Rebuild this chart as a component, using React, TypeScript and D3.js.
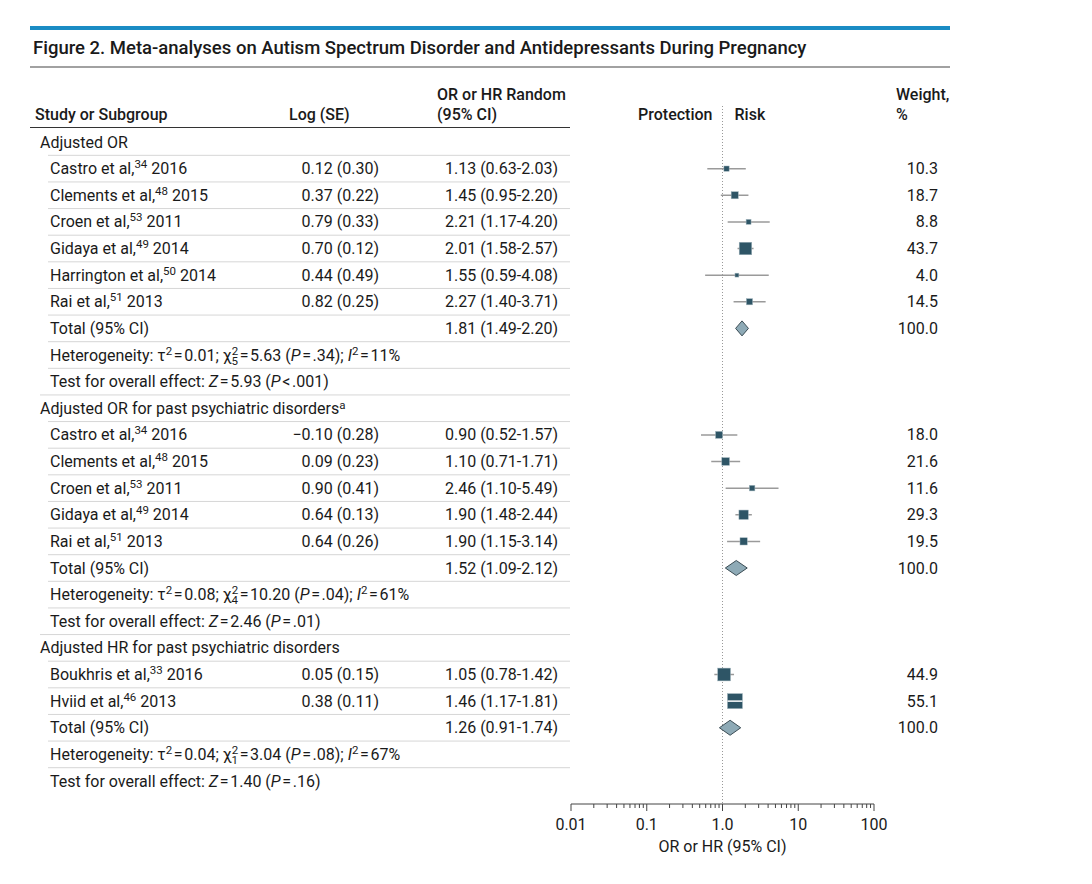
import * as d3 from "d3";
import React from "react";

// subgroups
const groupTitles = [
  "Adjusted OR",
  "Adjusted OR for past psychiatric disorders",
  "Adjusted HR for past psychiatric disorders",
];
const groupNotes = ["", "a", ""];

// studies
const studyGroup = [0, 0, 0, 0, 0, 0, 1, 1, 1, 1, 1, 2, 2];
const studyAuthor = [
  "Castro et al,", "Clements et al,", "Croen et al,", "Gidaya et al,", "Harrington et al,", "Rai et al,",
  "Castro et al,", "Clements et al,", "Croen et al,", "Gidaya et al,", "Rai et al,",
  "Boukhris et al,", "Hviid et al,",
];
const studyRef = ["34", "48", "53", "49", "50", "51", "34", "48", "53", "49", "51", "33", "46"];
const studyYear = ["2016", "2015", "2011", "2014", "2014", "2013", "2016", "2015", "2011", "2014", "2013", "2016", "2013"];
const logValues = [0.12, 0.37, 0.79, 0.7, 0.44, 0.82, -0.1, 0.09, 0.9, 0.64, 0.64, 0.05, 0.38];
const seValues = [0.3, 0.22, 0.33, 0.12, 0.49, 0.25, 0.28, 0.23, 0.41, 0.13, 0.26, 0.15, 0.11];
const orValues = [1.13, 1.45, 2.21, 2.01, 1.55, 2.27, 0.9, 1.1, 2.46, 1.9, 1.9, 1.05, 1.46];
const orLower = [0.63, 0.95, 1.17, 1.58, 0.59, 1.4, 0.52, 0.71, 1.1, 1.48, 1.15, 0.78, 1.17];
const orUpper = [2.03, 2.2, 4.2, 2.57, 4.08, 3.71, 1.57, 1.71, 5.49, 2.44, 3.14, 1.42, 1.81];
const weights = [10.3, 18.7, 8.8, 43.7, 4.0, 14.5, 18.0, 21.6, 11.6, 29.3, 19.5, 44.9, 55.1];

// pooled results
const totalOR = [1.81, 1.52, 1.26];
const totalLower = [1.49, 1.09, 0.91];
const totalUpper = [2.2, 2.12, 1.74];
const tau2 = ["0.01", "0.08", "0.04"];
const chiDf = ["5", "4", "1"];
const chi2 = ["5.63", "10.20", "3.04"];
const hetP = [".34", ".04", ".08"];
const i2 = ["11", "61", "67"];
const zValues = ["5.93", "2.46", "1.40"];
const zP = ["<", "=", "="];
const zPValues = [".001", ".01", ".16"];

// axis
const axisTicks = [0.01, 0.1, 1, 10, 100];
const axisLabels = ["0.01", "0.1", "1.0", "10", "100"];

const FONT = "Roboto, 'Noto Sans', sans-serif";
const SQUARE = "#2e5566";
const DIAMOND = "#8eaab6";
const LINE = "#d6d6d6";
const TXT = "#1a1a1a";

type Row = { type: "group" | "study" | "total" | "het" | "test"; g: number; i?: number };

const rows: Row[] = [];
groupTitles.forEach((_, g) => {
  rows.push({ type: "group", g });
  studyGroup.forEach((sg, i) => {
    if (sg === g) rows.push({ type: "study", g, i });
  });
  rows.push({ type: "total", g });
  rows.push({ type: "het", g });
  rows.push({ type: "test", g });
});

const fmt = (v: number) => (v < 0 ? "\u2212" : "") + Math.abs(v).toFixed(2);
const eq = "\u200A=\u200A";

export default function App() {
  const x = d3.scaleLog().domain([0.01, 100]).range([571, 874]);
  const y = d3.scaleLinear().domain([0, rows.length - 1]).range([142, 781]);
  const rowH = y(1) - y(0);
  const size = d3.scaleLinear().domain([0, 55.1]).range([3, 15]);
  const minor: number[] = [];
  for (let e = -2; e < 2; e++) for (let k = 2; k <= 9; k++) minor.push(k * Math.pow(10, e));

  return (
    <svg width={1092} height={884} style={{ position: "absolute", left: 0, top: 0, background: "#fff" }} fontFamily={FONT} fill={TXT}>
      <rect x={30} y={26} width={920} height={4} fill="#1a8cc4" />
      <text x={33} y={54} fontSize={18.5} fontWeight={500}>
        Figure 2. Meta-analyses on Autism Spectrum Disorder and Antidepressants During Pregnancy
      </text>
      <line x1={30} x2={950} y1={67} y2={67} stroke="#444" strokeWidth={1.2} />

      {/* header */}
      <g fontSize={16} fontWeight={500}>
        <text x={35} y={120}>Study or Subgroup</text>
        <text x={289} y={120}>Log (SE)</text>
        <text x={437} y={100}>OR or HR Random</text>
        <text x={437} y={120}>(95% CI)</text>
        <text x={x(1) - 10} y={120} textAnchor="end">Protection</text>
        <text x={x(1) + 12} y={120}>Risk</text>
        <text x={896} y={100}>Weight,</text>
        <text x={896} y={120}>%</text>
      </g>
      <line x1={30} x2={570} y1={127.5} y2={127.5} stroke="#333" strokeWidth={1.2} />

      {/* row separators */}
      {rows.map((r, k) =>
        k === 0 ? null : (
          <line key={"s" + k} x1={r.type === "group" ? 40 : 48} x2={570} y1={y(k) - rowH / 2} y2={y(k) - rowH / 2} stroke={LINE} strokeWidth={1} />
        )
      )}

      {/* reference line */}
      <line x1={x(1)} x2={x(1)} y1={106} y2={804} stroke="#999" strokeWidth={1} strokeDasharray="1,2" />

      {/* rows */}
      <g fontSize={16}>
        {rows.map((r, k) => {
          const cy = y(k);
          const by = cy + 5.5;
          if (r.type === "group") {
            return (
              <text key={k} x={40} y={by}>
                {groupTitles[r.g]}
                {groupNotes[r.g] && <tspan dy={-5} fontSize={11.5}>{groupNotes[r.g]}</tspan>}
              </text>
            );
          }
          if (r.type === "study") {
            const i = r.i as number;
            const s = size(weights[i]);
            return (
              <g key={k}>
                <text x={50} y={by}>
                  {studyAuthor[i]}
                  <tspan dy={-6} fontSize={11.5}>{studyRef[i]}</tspan>
                  <tspan dy={6}>{" " + studyYear[i]}</tspan>
                </text>
                <text x={379} y={by} textAnchor="end">{`${fmt(logValues[i])} (${seValues[i].toFixed(2)})`}</text>
                <text x={558} y={by} textAnchor="end">{`${orValues[i].toFixed(2)} (${orLower[i].toFixed(2)}-${orUpper[i].toFixed(2)})`}</text>
                <text x={938} y={by} textAnchor="end">{weights[i].toFixed(1)}</text>
                <line x1={x(orLower[i])} x2={x(orUpper[i])} y1={cy} y2={cy} stroke="#9a9a9a" strokeWidth={1.5} />
                <rect x={x(orValues[i]) - s / 2} y={cy - s / 2} width={s} height={s} fill={SQUARE} stroke="#9fb3bb" strokeWidth={0.5} />
                {i === 12 && <line x1={x(orValues[i]) - s / 2} x2={x(orValues[i]) + s / 2} y1={cy} y2={cy} stroke="#fff" strokeWidth={1.5} />}
              </g>
            );
          }
          if (r.type === "total") {
            const g = r.g;
            const h = 7.5;
            const path = d3.path();
            path.moveTo(x(totalLower[g]), cy);
            path.lineTo(x(totalOR[g]), cy - h);
            path.lineTo(x(totalUpper[g]), cy);
            path.lineTo(x(totalOR[g]), cy + h);
            path.closePath();
            return (
              <g key={k}>
                <text x={50} y={by}>Total (95% CI)</text>
                <text x={558} y={by} textAnchor="end">{`${totalOR[g].toFixed(2)} (${totalLower[g].toFixed(2)}-${totalUpper[g].toFixed(2)})`}</text>
                <text x={938} y={by} textAnchor="end">100.0</text>
                <path d={path.toString()} fill={DIAMOND} stroke="#3c4d55" strokeWidth={1} />
              </g>
            );
          }
          if (r.type === "het") {
            const g = r.g;
            return (
              <text key={k} x={50} y={by}>
                {"Heterogeneity: \u03C4"}
                <tspan dy={-6} fontSize={11.5}>2</tspan>
                <tspan dy={6}>{`${eq}${tau2[g]}; \u03C7`}</tspan>
                <tspan dy={-6} fontSize={11.5}>2</tspan>
                <tspan dy={10} dx={-6.5} fontSize={11.5}>{chiDf[g]}</tspan>
                <tspan dy={-4}>{`${eq}${chi2[g]} (`}</tspan>
                <tspan fontStyle="italic">P</tspan>
                <tspan>{`${eq}${hetP[g]}); `}</tspan>
                <tspan fontStyle="italic">I</tspan>
                <tspan dy={-6} fontSize={11.5}>2</tspan>
                <tspan dy={6}>{`${eq}${i2[g]}%`}</tspan>
              </text>
            );
          }
          const g = r.g;
          return (
            <text key={k} x={50} y={by}>
              {"Test for overall effect: "}
              <tspan fontStyle="italic">Z</tspan>
              <tspan>{`${eq}${zValues[g]} (`}</tspan>
              <tspan fontStyle="italic">P</tspan>
              <tspan>{`\u200A${zP[g]}\u200A${zPValues[g]})`}</tspan>
            </text>
          );
        })}
      </g>

      {/* axis */}
      <g stroke="#444" strokeWidth={1}>
        <line x1={x(0.01)} x2={x(100)} y1={804} y2={804} />
        {axisTicks.map((t) => (
          <line key={"M" + t} x1={x(t)} x2={x(t)} y1={804} y2={811} />
        ))}
        {minor.map((t) => (
          <line key={"m" + t} x1={x(t)} x2={x(t)} y1={804} y2={808} />
        ))}
      </g>
      <g fontSize={16} textAnchor="middle">
        {axisTicks.map((t, k) => (
          <text key={t} x={x(t)} y={830}>{axisLabels[k]}</text>
        ))}
        <text x={x(1)} y={852}>OR or HR (95% CI)</text>
      </g>
    </svg>
  );
}
